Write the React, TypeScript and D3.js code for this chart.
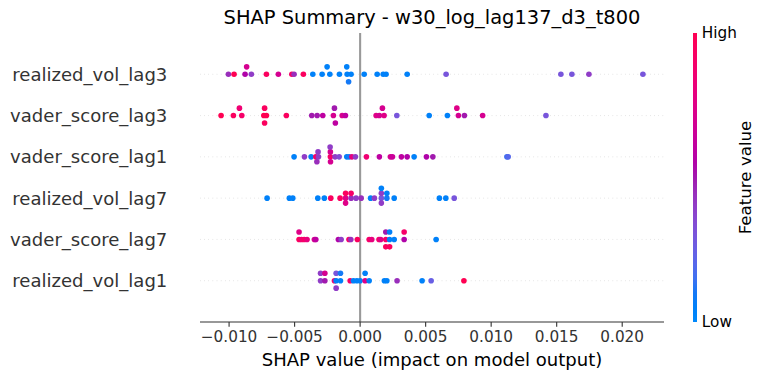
import React from "react";
import * as d3 from "d3";

// ---------------- data ----------------
const FEATURES = [
  "realized_vol_lag3",
  "vader_score_lag3",
  "vader_score_lag1",
  "realized_vol_lag7",
  "vader_score_lag7",
  "realized_vol_lag1",
];

const shapRealizedVolLag3 = [
  -0.01005, -0.00962, -0.00878, -0.00866, -0.0083, -0.00715, -0.00624, -0.00521, -0.00504, -0.00433,
  -0.00361, -0.0029, -0.00231, -0.00252, -0.00158, -0.00099, -0.00102, -0.00088, -0.00069, 0.00031,
  0.0013, 0.00176, 0.00198, 0.00359, 0.00656, 0.01532, 0.01616, 0.01746, 0.02158,
];
const featRealizedVolLag3 = [
  0.45, 1.0, 0.55, 0.7, 0.4, 0.95, 0.7, 0.9, 0.45, 0.95,
  0.05, 0.05, 0.05, 0.05, 0.05, 0.05, 0.05, 0.1, 0.05, 0.05,
  0.05, 0.05, 0.05, 0.05, 0.3, 0.3, 0.3, 0.4, 0.3,
];

const shapVaderScoreLag3 = [
  -0.01061, -0.00967, -0.00903, -0.00921, -0.00735, -0.00729, -0.00729, -0.00715, -0.00563, -0.00369,
  -0.00328, -0.00285, -0.00204, -0.00196, -0.00189, -0.00137, -0.00112, 0.00122, 0.00147, 0.00183,
  0.0017, 0.0028, 0.00527, 0.00666, 0.0075, 0.00738, 0.00796, 0.00935, 0.01418,
];
const featVaderScoreLag3 = [
  1.0, 0.95, 0.9, 0.85, 1.0, 0.95, 0.95, 1.0, 0.95, 0.5,
  0.5, 0.6, 0.7, 0.5, 0.6, 0.7, 0.6, 0.75, 0.7, 0.75,
  0.7, 0.3, 0.05, 0.05, 0.7, 0.75, 0.5, 0.7, 0.3,
];

const shapVaderScoreLag1 = [
  -0.00504, -0.00425, -0.00374, -0.00338, -0.00318, -0.00321, -0.0033, -0.00227, -0.00227, -0.00226,
  -0.00229, -0.00191, -0.0016, -0.00102, -0.00084, -0.00063, -0.00036, 0.00048, 0.00147, 0.00231,
  0.00247, 0.00315, 0.00359, 0.00412, 0.00506, 0.00555, 0.0112, 0.0113,
];
const featVaderScoreLag1 = [
  0.05, 0.4, 0.05, 0.9, 0.4, 0.4, 0.45, 0.9, 0.7, 0.7,
  0.4, 0.4, 0.35, 0.05, 0.1, 0.8, 0.4, 0.85, 0.6, 0.7,
  0.65, 0.6, 0.55, 0.05, 0.55, 0.5, 0.15, 0.2,
];

const shapRealizedVolLag7 = [
  -0.0071, -0.0054, -0.00514, -0.00323, -0.00273, -0.00224, -0.00153, -0.00111, -0.00111, -0.00111,
  -0.00069, -0.00069, -0.00031, 0.00008, 0.0008, 0.00109, 0.00162, 0.00162, 0.00162, 0.00162,
  0.00204, 0.00204, 0.0026, 0.00605, 0.00654, 0.00718,
];
const featRealizedVolLag7 = [
  0.05, 0.05, 0.05, 0.05, 0.05, 0.95, 0.95, 0.75, 0.95, 0.75,
  0.45, 0.9, 0.4, 0.45, 0.05, 0.4, 0.3, 0.4, 0.4, 0.05,
  0.1, 0.05, 0.05, 0.05, 0.05, 0.3,
];

const shapVaderScoreLag7 = [
  -0.00466, -0.00466, -0.00447, -0.00427, -0.00405, -0.00349, -0.00338, -0.00166, -0.00145, -0.00085,
  -0.00071, -0.00021, 0.00069, 0.00089, 0.00144, 0.00157, 0.00196, 0.00196, 0.00196, 0.00225,
  0.00225, 0.00225, 0.0026, 0.00336, 0.00336, 0.0058,
];
const featVaderScoreLag7 = [
  0.95, 0.75, 0.85, 0.9, 0.8, 0.7, 0.6, 0.55, 0.4, 0.9,
  0.45, 0.95, 0.9, 0.8, 0.9, 0.75, 0.9, 0.5, 0.95, 0.05,
  0.05, 0.95, 0.05, 0.55, 0.9, 0.05,
];

const shapRealizedVolLag1 = [
  -0.00302, -0.00302, -0.00269, -0.00269, -0.00196, -0.00183, -0.00183, -0.00183, -0.0015, -0.0015,
  -0.00076, -0.00051, -0.00025, 0.0, 0.00038, 0.00038, 0.00069, 0.00185, 0.00204, 0.00282,
  0.00473, 0.00542, 0.00792,
];
const featRealizedVolLag1 = [
  0.4, 0.4, 0.5, 0.7, 0.85, 0.05, 0.3, 0.4, 0.05, 0.1,
  0.9, 0.05, 0.05, 0.05, 0.75, 0.05, 0.05, 0.05, 0.05, 0.45,
  0.05, 0.25, 1.0,
];

const SHAP_VALUES = [
  shapRealizedVolLag3,
  shapVaderScoreLag3,
  shapVaderScoreLag1,
  shapRealizedVolLag7,
  shapVaderScoreLag7,
  shapRealizedVolLag1,
];
const FEATURE_VALUES = [
  featRealizedVolLag3,
  featVaderScoreLag3,
  featVaderScoreLag1,
  featRealizedVolLag7,
  featVaderScoreLag7,
  featRealizedVolLag1,
];

const X_TICKS = [-0.01, -0.005, 0, 0.005, 0.01, 0.015, 0.02];
const TITLE = "SHAP Summary - w30_log_lag137_d3_t800";
const X_LABEL = "SHAP value (impact on model output)";
const CBAR_LABEL = "Feature value";
const CBAR_HIGH = "High";
const CBAR_LOW = "Low";

// ---------------- helpers ----------------
function redBlue(t: number): string {
  const l = t < 0.5 ? 54 + (40 - 54) * (t / 0.5) : 40 + (54 - 40) * ((t - 0.5) / 0.5);
  const c = 70 + 20 * t;
  const h0 = 4.6588;
  const h1 = 0.35470565 + 2 * Math.PI;
  const h = ((h0 + (h1 - h0) * t) * 180) / Math.PI;
  return d3.hcl(h, c, l).formatHex();
}

function beeswarm(vals: number[]): number[] {
  const N = vals.length;
  const mn = d3.min(vals) as number;
  const mx = d3.max(vals) as number;
  const nbins = 100;
  const quant = vals.map((v) => Math.round((nbins * (v - mn)) / (mx - mn + 1e-8)));
  const inds = d3.range(N).sort((a, b) => quant[a] - quant[b] || a - b);
  let layer = 0;
  let last = -1;
  const ys = new Array(N).fill(0);
  for (const i of inds) {
    if (quant[i] !== last) layer = 0;
    ys[i] = Math.ceil(layer / 2) * ((layer % 2) * 2 - 1);
    layer += 1;
    last = quant[i];
  }
  const m = d3.max(ys.map((y) => y + 1)) as number;
  return ys.map((y) => y * 0.9 * (0.4 / m));
}

// ---------------- layout ----------------
const W = 764;
const H = 380;
const AX_L = 200;
const AX_R = 664;
const AX_T = 33;
const AX_B = 322;
const CB_X = 693;
const CB_W = 4;
const FONT = "'DejaVu Sans', sans-serif";
const PT = 100 / 72;

export default function App() {
  const all = SHAP_VALUES.flat();
  const [mn, mx] = d3.extent(all) as [number, number];
  const pad = (mx - mn) * 0.05;
  const x = d3.scaleLinear().domain([mn - pad, mx + pad]).range([AX_L, AX_R]);
  const nF = FEATURES.length;
  const y = d3.scaleLinear().domain([-1, nF]).range([AX_B, AX_T]);
  const fmt = d3.format(".3f");

  const gradStops = d3.range(0, 1.0001, 0.05);

  return (
    <svg
      width={W}
      height={H}
      style={{ position: "absolute", left: 0, top: 0, background: "#fff" }}
      fontFamily={FONT}
    >
      <defs>
        <linearGradient id="cbgrad" x1="0" y1="1" x2="0" y2="0">
          {gradStops.map((t) => (
            <stop key={t} offset={t} stopColor={redBlue(t)} />
          ))}
        </linearGradient>
      </defs>
      <rect width={W} height={H} fill="#fff" />

      {/* dotted row lines */}
      {FEATURES.map((f, i) => {
        const pos = nF - 1 - i;
        return (
          <line
            key={"dl" + f}
            x1={AX_L}
            x2={AX_R}
            y1={y(pos)}
            y2={y(pos)}
            stroke="#cccccc"
            strokeWidth={0.5 * PT}
            strokeDasharray={`${0.5 * PT} ${2.5 * PT}`}
          />
        );
      })}

      {/* zero line */}
      <line x1={x(0)} x2={x(0)} y1={AX_T} y2={AX_B} stroke="#999999" strokeWidth={1.5 * PT} />

      {/* points */}
      {FEATURES.map((f, i) => {
        const pos = nF - 1 - i;
        const vals = SHAP_VALUES[i];
        const fv = FEATURE_VALUES[i];
        const offs = beeswarm(vals);
        return (
          <g key={"pts" + f}>
            {vals.map((v, j) => (
              <circle key={j} cx={x(v)} cy={y(pos + offs[j])} r={2.8} fill={redBlue(fv[j])} />
            ))}
          </g>
        );
      })}

      {/* feature labels */}
      {FEATURES.map((f, i) => {
        const pos = nF - 1 - i;
        return (
          <text
            key={"fl" + f}
            x={AX_L - 20 * PT - 3.5 * PT}
            y={y(pos)}
            textAnchor="end"
            dominantBaseline="central"
            fontSize={13 * PT}
            fill="#333333"
          >
            {f}
          </text>
        );
      })}

      {/* x axis */}
      <line x1={AX_L} x2={AX_R} y1={AX_B} y2={AX_B} stroke="#333333" strokeWidth={0.8 * PT} />
      {X_TICKS.map((t) => (
        <g key={"xt" + t}>
          <line x1={x(t)} x2={x(t)} y1={AX_B} y2={AX_B + 3.5 * PT} stroke="#333333" strokeWidth={0.8 * PT} />
          <text x={x(t)} y={342} textAnchor="middle" fontSize={11 * PT} fill="#333333">
            {fmt(t)}
          </text>
        </g>
      ))}
      <text x={(AX_L + AX_R) / 2} y={366} textAnchor="middle" fontSize={13 * PT} fill="#000">
        {X_LABEL}
      </text>

      {/* title */}
      <text x={(AX_L + AX_R) / 2} y={24} textAnchor="middle" fontSize={14 * PT} fill="#000">
        {TITLE}
      </text>

      {/* colorbar */}
      <rect x={CB_X} y={AX_T} width={CB_W} height={AX_B - AX_T} fill="url(#cbgrad)" />
      <text x={CB_X + CB_W + 3.5 * PT} y={AX_T} dominantBaseline="central" fontSize={11 * PT} fill="#000">
        {CBAR_HIGH}
      </text>
      <text x={CB_X + CB_W + 3.5 * PT} y={AX_B} dominantBaseline="central" fontSize={11 * PT} fill="#000">
        {CBAR_LOW}
      </text>
      <text
        transform={`translate(${745},${(AX_T + AX_B) / 2}) rotate(-90)`}
        textAnchor="middle"
        dominantBaseline="central"
        fontSize={12 * PT}
        fill="#000"
      >
        {CBAR_LABEL}
      </text>
    </svg>
  );
}
